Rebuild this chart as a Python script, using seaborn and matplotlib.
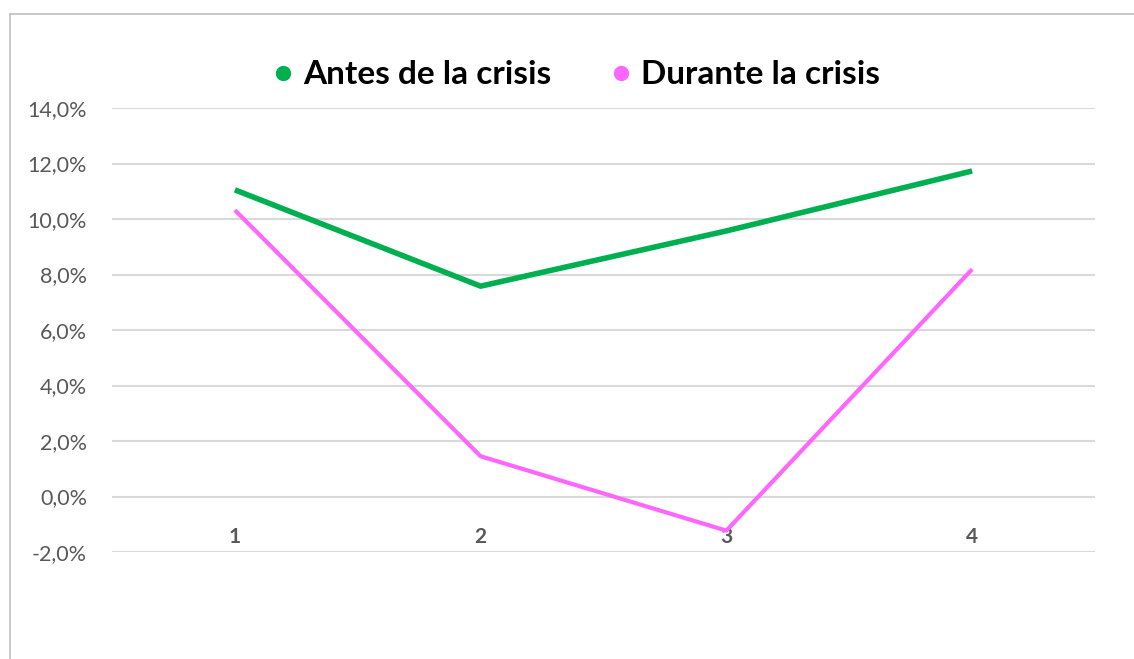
import matplotlib
matplotlib.use("Agg")
import matplotlib.pyplot as plt
import seaborn as sns
import pandas as pd
from matplotlib.lines import Line2D
from matplotlib.ticker import FuncFormatter, MultipleLocator

categories = [1, 2, 3, 4]
antes = [0.1105, 0.0758, 0.0957, 0.1173]
durante = [0.1032, 0.0145, -0.0123, 0.0819]
series_names = ["Antes de la crisis", "Durante la crisis"]
colors = {"Antes de la crisis": "#00b050", "Durante la crisis": "#ff66ff"}

df = pd.DataFrame({
    "x": categories * 2,
    "valor": antes + durante,
    "serie": [series_names[0]] * 4 + [series_names[1]] * 4,
})

sns.set_theme(style="white")
plt.rcParams["font.family"] = ["Lato", "DejaVu Sans"]

fig = plt.figure(figsize=(11.34, 6.59), dpi=100)
ax = fig.add_axes([112 / 1134, 1 - 552 / 659, (1095 - 112) / 1134, (552 - 108) / 659])

sns.lineplot(data=df, x="x", y="valor", hue="serie", palette=colors, ax=ax, legend=False)
for line, lw in zip(ax.get_lines(), [4.0, 3.0]):
    line.set_linewidth(lw)
    line.set_solid_capstyle("butt")

ax.set_xlim(0.5, 4.5)
ax.set_ylim(-0.02, 0.14)
ax.yaxis.set_major_locator(MultipleLocator(0.02))
ax.yaxis.set_major_formatter(FuncFormatter(lambda v, p: f"{v*100:.1f}%".replace(".", ",")))
ax.set_xticks(categories)
ax.set_xticklabels([str(c) for c in categories])
ax.grid(axis="y", color="#d9d9d9", linewidth=1.5)
ax.set_axisbelow(True)
for s in ["top", "right", "left"]:
    ax.spines[s].set_visible(False)
ax.spines["bottom"].set_position(("data", 0))
ax.spines["bottom"].set_visible(False)
ax.tick_params(axis="x", length=0, pad=22, labelsize=15, labelcolor="#595959")
ax.tick_params(axis="y", length=0, pad=18, labelsize=15.5, labelcolor="#595959")
for t in ax.get_xticklabels():
    t.set_fontweight("bold")
ax.set_xlabel("")
ax.set_ylabel("")

handles = [Line2D([0], [0], marker="o", linestyle="none", markersize=10,
                  markerfacecolor=colors[n], markeredgecolor=colors[n]) for n in series_names]
leg = fig.legend(handles, series_names, loc="center", bbox_to_anchor=(573 / 1134, 1 - 75 / 659),
                 ncol=2, frameon=False, prop={"weight": "bold", "size": 24},
                 handletextpad=0.1, columnspacing=1.6, handlelength=1.0)
for t in leg.get_texts():
    t.set_color("black")

# chart area border (partly visible)
fig.add_artist(Line2D([10 / 1134, 1.0], [1 - 14 / 659] * 2, color="#bfbfbf", linewidth=1.2))
fig.add_artist(Line2D([10 / 1134] * 2, [0, 1 - 14 / 659], color="#bfbfbf", linewidth=1.2))

fig.savefig("out.png", dpi=100, facecolor="white")
